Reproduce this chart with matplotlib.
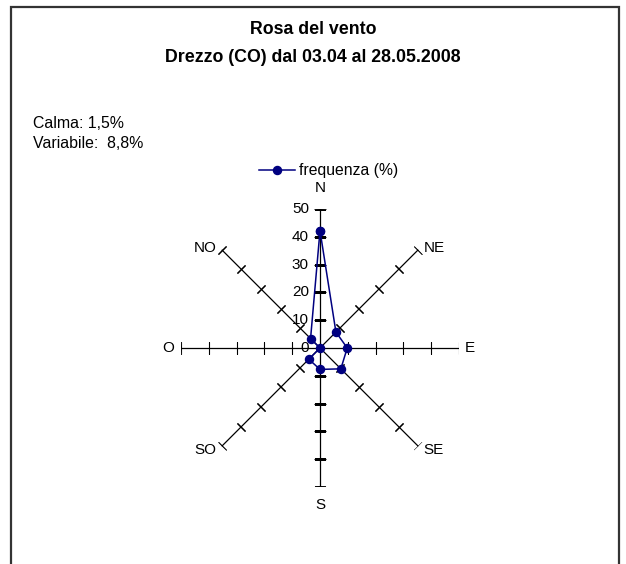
import numpy as np
import matplotlib.pyplot as plt
from matplotlib.patches import Rectangle

plt.rcParams['font.family'] = ['Liberation Sans', 'DejaVu Sans']

# wind directions (compass bearing, degrees clockwise from N)
directions = ['N', 'NE', 'E', 'SE', 'S', 'SO', 'O', 'NO']
bearings = [0, 45, 90, 135, 180, 225, 270, 315]
frequenza = [42.2, 8.1, 9.8, 10.6, 7.7, 5.7, 0.0, 4.8]
r_ticks = [0, 10, 20, 30, 40, 50]

title1 = 'Rosa del vento'
title2 = 'Drezzo (CO) dal 03.04 al 28.05.2008'
note1 = 'Calma: 1,5%'
note2 = 'Variabile:  8,8%'

W, H = 626, 564
fig = plt.figure(figsize=(W / 100, H / 100), dpi=100)

# chart border (open at the bottom, like the source)
fig.patches.append(Rectangle((11 / W, -0.05), 608 / W, 1.05 - 7 / H,
                             transform=fig.transFigure, fill=False,
                             edgecolor='#333333', lw=1.6))

cx, cy, rad = 320, 348, 139
ax = fig.add_axes([(cx - rad) / W, (H - cy - rad) / H, 2 * rad / W, 2 * rad / H],
                  projection='polar')
ax.set_theta_zero_location('N')
ax.set_theta_direction(-1)
ax.set_ylim(0, 50)
ax.grid(False)
ax.set_xticks([])
ax.set_yticks([])
ax.spines['polar'].set_visible(False)
ax.patch.set_visible(False)

# label offsets in points (x, y) for each direction
lab_off = {'N': (0, 15), 'NE': (4, 1), 'E': (4, 0), 'SE': (4, -3),
           'S': (0, -13), 'SO': (-4, -3), 'O': (-5, 0), 'NO': (-4, 1)}

th = np.deg2rad(bearings)
for b, t, name in zip(bearings, th, directions):
    ax.plot([t, t], [0, 50], color='black', lw=0.9, zorder=1)
    if b % 180 == 0:
        mk = '_'
    elif b % 180 == 90:
        mk = '|'
    else:
        mk = (2, 2, 90 - b)
    ax.plot([t] * 5, r_ticks[1:], ls='none', color='black',
            marker=mk, ms=8, mew=0.8, zorder=1)
    ox, oy = lab_off[name]
    ha = 'center' if ox == 0 else ('left' if ox > 0 else 'right')
    ax.annotate(name, (t, 50), xytext=(ox, oy), textcoords='offset points',
                ha=ha, va='center', fontsize=11)

for r in r_ticks:
    ax.annotate(str(r), (0, r), xytext=(-8, 0), textcoords='offset points',
                ha='right', va='center', fontsize=11)

theta_closed = np.append(th, th[0])
vals_closed = np.append(frequenza, frequenza[0])
line, = ax.plot(theta_closed, vals_closed, color='#000080', lw=1.1,
                marker='o', ms=5.8, mfc='#000080', mec='#000080', zorder=3,
                label='frequenza (%)')

leg = fig.legend(handles=[line], loc='center left', bbox_to_anchor=(257 / W, 1 - 171 / H),
                 frameon=True, fontsize=11.3, handlelength=2.3, handletextpad=0.3,
                 borderpad=0.1, borderaxespad=0)
leg.get_frame().set_edgecolor('none')
leg.get_frame().set_facecolor('white')
leg.get_frame().set_alpha(1)

fig.text(313 / W, 1 - 29 / H, title1, ha='center', va='center', fontsize=12.8,
         fontweight='bold')
fig.text(313 / W, 1 - 57 / H, title2, ha='center', va='center', fontsize=12.8,
         fontweight='bold')
fig.text(33 / W, 1 - 124 / H, note1, ha='left', va='center', fontsize=11.4)
fig.text(33 / W, 1 - 143 / H, note2, ha='left', va='center', fontsize=11.4)

fig.savefig('out.png', dpi=100)
